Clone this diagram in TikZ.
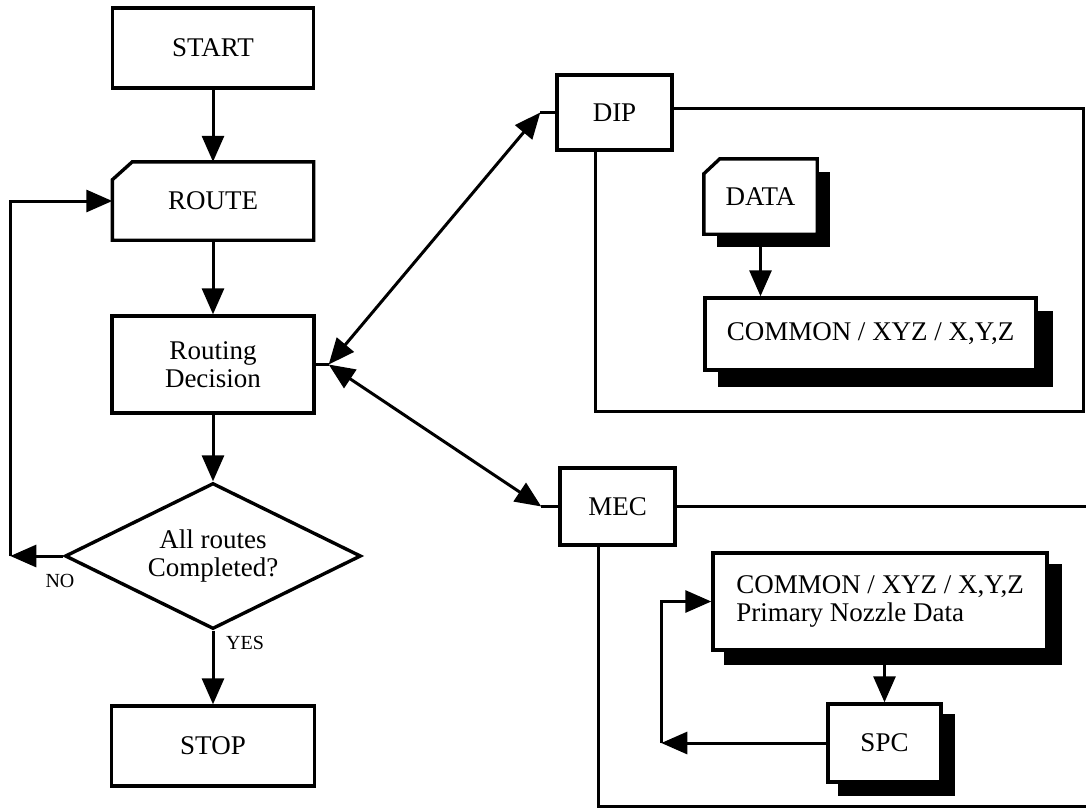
\documentclass[tikz,border=0pt]{standalone}
\usepackage{fontspec}
\setmainfont{Liberation Serif}
\usetikzlibrary{arrows.meta,calc,shapes.geometric,backgrounds}
\begin{document}
\begin{tikzpicture}[x=1pt,y=-1pt,
  txt/.style={font=\fontsize{27}{28.5}\selectfont},
  box/.style={txt,draw,line width=3.4pt,fill=white,inner sep=0pt,align=center},
  plain/.style={txt,inner sep=0pt,align=center},
  lbl/.style={inner sep=0pt,font=\fontsize{20}{22}\selectfont},
  conn/.style={line width=3pt},
  tip/.tip={Triangle[length=26pt,width=22pt]},
  arr/.style={conn,-tip},
  darr/.style={conn,tip-tip},
  outline/.style={line width=3.4pt}
]
\useasboundingbox (0,0) rectangle (1086,809);

% left column
\node[box,minimum width=201pt,minimum height=80pt] (start) at (213,48) {START};
\node[plain,minimum width=201pt,minimum height=78pt] (route) at (213,201) {ROUTE};
\draw[outline] (route.south west) -- ($(route.north west)+(0,18)$) -- ($(route.north west)+(20,0)$) -- (route.north east) -- (route.south east) -- cycle;
\node[box,minimum width=202pt,minimum height=97pt] (rd) at (213,364.5) {Routing\\Decision};
\node[draw,diamond,line width=3.4pt,inner sep=0pt,minimum width=296pt,minimum height=146pt,aspect=2,align=center,txt] (dia) at (213,556) {All routes\\Completed?};
\node[box,minimum width=203pt,minimum height=80pt] (stop) at (213,746) {STOP};
\node[lbl] (yes) at (245,643) {YES};
\node[lbl] (no) at (60,581) {NO};
\path (dia.west) ++(-53,0) coordinate (nol);

\draw[arr] (start.south) -- (route.north);
\draw[arr] (route.south) -- (rd.north);
\draw[arr] (rd.south) -- (dia.north);
\draw[arr] (dia.south) -- (stop.north);
\draw[arr] (dia.west) -- (nol);
\draw[arr] (nol) |- (route.west);

% DIP
\node[box,minimum width=115pt,minimum height=75pt] (dip) at (614.5,112.5) {DIP};
\coordinate (rdp) at ($(rd.east)+(13,0)$);
\coordinate (dipp) at ($(dip.west)+(-15,0)$);
\draw[conn] (rd.east) -- (rdp);
\draw[conn] (dipp) -- (dip.west);
\draw[darr] (rdp) -- (dipp);
\coordinate (dtr) at (1083,108);
\coordinate (dbr) at (1083,411);
\coordinate (dbl) at (595,411);
\draw[conn] (dip.east |- dtr) -- (dtr) -- (dbr) -- (dbl) -- (dbl |- dip.south);

\node[plain,minimum width=113pt,minimum height=75pt] (data) at (760.5,196.5) {DATA};
\node[box,minimum width=331pt,minimum height=72pt] (c1) at (870.5,334) {COMMON / XYZ / X,Y,Z};
\draw[arr] (data.south) -- (data.south |- c1.north);

% MEC
\node[box,minimum width=115pt,minimum height=77pt] (mec) at (617.5,506.5) {MEC};
\coordinate (mecp) at ($(mec.west)+(-17,0)$);
\draw[conn] (mecp) -- (mec.west);
\draw[darr] (rdp) -- (mecp);
\coordinate (mtr) at (1092,506.5);
\coordinate (mbl) at (598,806);
\coordinate (mbr) at (1092,806);
\draw[conn] (mec.east) -- (mtr);
\draw[conn] (mbl |- mec.south) -- (mbl) -- (mbr);

\node[box,align=left,minimum width=334pt,minimum height=97pt] (c2) at (880,601.5) {COMMON / XYZ / X,Y,Z\\Primary Nozzle Data};
\node[box,minimum width=113pt,minimum height=78pt] (spc) at (884.5,743) {SPC};
\draw[arr] (spc.north |- c2.south) -- (spc.north);
\coordinate (lp) at ($(spc.west)+(-165,0)$);
\draw[arr] (spc.west) -- (lp);
\draw[arr] (lp) |- (c2.west);

% shadows and card outline of DATA
\begin{scope}[on background layer]
  \foreach \n/\d in {data/13,c1/15,c2/13,spc/12}
    \fill[black] ($(\n.south west)+(\d,\d)$) rectangle ($(\n.north east)+(\d,\d)$);
  \draw[outline,fill=white] (data.south west) -- ($(data.north west)+(0,15)$) -- ($(data.north west)+(16,0)$) -- (data.north east) -- (data.south east) -- cycle;
\end{scope}
\end{tikzpicture}
\end{document}
